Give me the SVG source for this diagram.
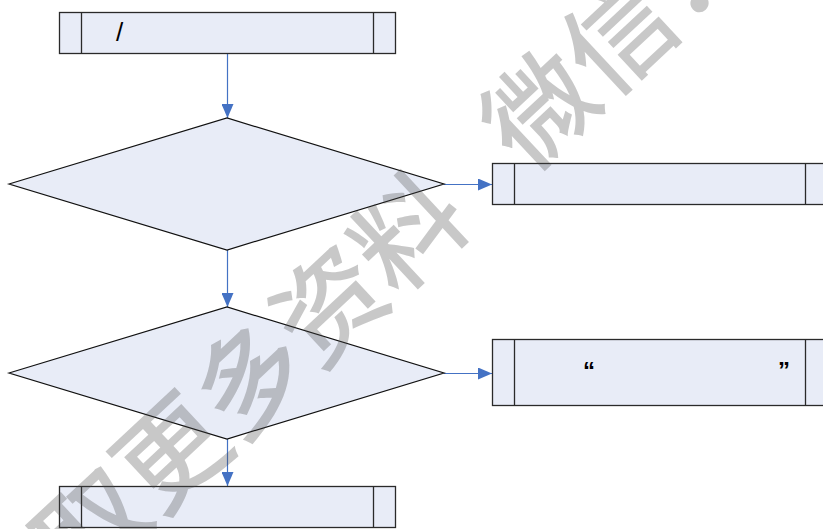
<svg xmlns="http://www.w3.org/2000/svg" width="823" height="529" viewBox="0 0 823 529">
<defs>
<style>
.box{fill:#e8ecf7;stroke:#2a2a2a;stroke-width:1.3}
.inner{stroke:#2a2a2a;stroke-width:1.3}
.dia{fill:#e8ecf7;stroke:#111;stroke-width:1.2}
.conn{stroke:#4472c4;stroke-width:1.2;fill:none}
.lbl{font-family:"Liberation Sans",Arial,sans-serif;fill:#000}
.wm{font-family:"Noto Sans CJK SC","Noto Sans",sans-serif;font-size:108px;font-weight:500;fill:#494949;fill-opacity:0.3}
</style>
<marker id="ah" viewBox="0 0 14 12" refX="14" refY="6" markerWidth="14" markerHeight="12" markerUnits="userSpaceOnUse" orient="auto">
<path d="M0,0 L14,6 L0,12 Z" fill="#4472c4"/>
</marker>
</defs>
<rect width="823" height="529" fill="#fff"/>
<g id="connectors">
<line class="conn" x1="227.5" y1="53" x2="227.5" y2="118" marker-end="url(#ah)"/>
<line class="conn" x1="444" y1="184.5" x2="492" y2="184.5" marker-end="url(#ah)"/>
<line class="conn" x1="227.5" y1="250" x2="227.5" y2="307" marker-end="url(#ah)"/>
<line class="conn" x1="444" y1="373.5" x2="492" y2="373.5" marker-end="url(#ah)"/>
<line class="conn" x1="227.5" y1="439" x2="227.5" y2="486" marker-end="url(#ah)"/>
</g>
<g id="box1">
<rect class="box" x="59.5" y="12.5" width="336" height="41"/>
<line class="inner" x1="81.5" y1="12.5" x2="81.5" y2="53.5"/>
<line class="inner" x1="373.5" y1="12.5" x2="373.5" y2="53.5"/>
<text class="lbl" x="116" y="41" font-size="26">/</text>
</g>
<g id="decision1">
<polygon class="dia" points="9,184 227,118 444,184 227,250"/>
</g>
<g id="box2">
<rect class="box" x="492.5" y="163.5" width="345" height="41"/>
<line class="inner" x1="514.5" y1="163.5" x2="514.5" y2="204.5"/>
<line class="inner" x1="805.5" y1="163.5" x2="805.5" y2="204.5"/>
</g>
<g id="decision2">
<polygon class="dia" points="9,373 227,307 444,373 227,439"/>
</g>
<g id="box3">
<rect class="box" x="492.5" y="339.5" width="345" height="66"/>
<line class="inner" x1="514.5" y1="339.5" x2="514.5" y2="405.5"/>
<line class="inner" x1="805.5" y1="339.5" x2="805.5" y2="405.5"/>
<text class="lbl" x="583" y="379" font-size="24" font-weight="bold">“</text>
<text class="lbl" x="778" y="379" font-size="24" font-weight="bold">”</text>
</g>
<g id="box4">
<rect class="box" x="59.5" y="486.5" width="336" height="41"/>
<line class="inner" x1="81.5" y1="486.5" x2="81.5" y2="527.5"/>
<line class="inner" x1="373.5" y1="486.5" x2="373.5" y2="527.5"/>
</g>
<g id="watermark">
<text class="wm" transform="translate(1,666) rotate(-43)">获取更多资料<tspan dx="72">微信：</tspan></text>
</g>
</svg>
